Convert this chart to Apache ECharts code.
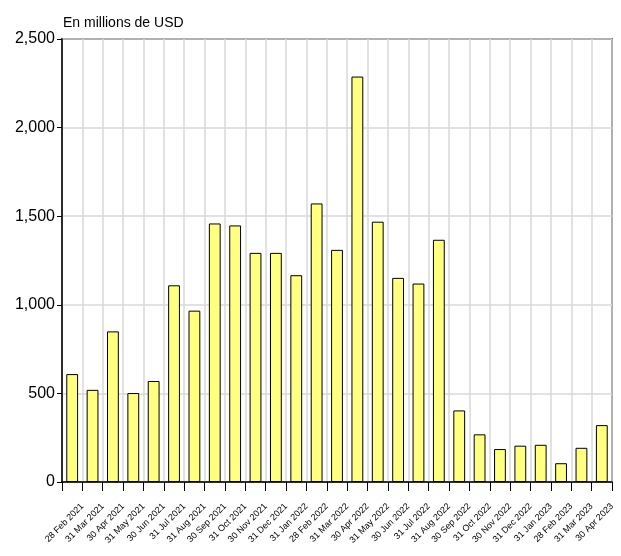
<!DOCTYPE html>
<html>
<head>
<meta charset="utf-8">
<script src="https://cdn.jsdelivr.net/npm/echarts@6/dist/echarts.min.js"></script>
<style>
html,body{margin:0;padding:0;background:#fff;}
#chart{width:621px;height:556px;}
</style>
</head>
<body>
<div id="chart"></div>
<script>
const categories = [
  "28 Feb 2021","31 Mar 2021","30 Apr 2021","31 May 2021","30 Jun 2021","31 Jul 2021",
  "31 Aug 2021","30 Sep 2021","31 Oct 2021","30 Nov 2021","31 Dec 2021","31 Jan 2022",
  "28 Feb 2022","31 Mar 2022","30 Apr 2022","31 May 2022","30 Jun 2022","31 Jul 2022",
  "31 Aug 2022","30 Sep 2022","31 Oct 2022","30 Nov 2022","31 Dec 2022","31 Jan 2023",
  "28 Feb 2023","31 Mar 2023","30 Apr 2023"
];
const values = [
  609, 520, 850, 502, 570, 1110,
  967, 1459, 1448, 1293, 1293, 1167,
  1572, 1310, 2288, 1469, 1152, 1120,
  1367, 404, 269, 186, 205, 210,
  106, 193, 321
];
const yTicks = [0, 500, 1000, 1500, 2000, 2500];
const titleText = "En millions de USD";

// label axis: labels sit at the right boundary of each category
const boundaryLabels = [""].concat(categories);

const chart = echarts.init(document.getElementById('chart'), null, {renderer: 'canvas'});
const font = "'Liberation Sans', Arial, sans-serif";
chart.setOption({
  animation: false,
  backgroundColor: '#fff',
  title: {
    text: titleText,
    left: 58, top: 11,
    textStyle: {fontFamily: font, fontSize: 14, fontWeight: 'normal', color: '#000'}
  },
  grid: {
    left: 62, right: 9, top: 39, bottom: 74,
    show: true, borderColor: '#000', borderWidth: 1.5, backgroundColor: 'transparent',
    containLabel: false
  },
  xAxis: [{
    type: 'category',
    data: categories,
    boundaryGap: true,
    axisLine: {show: true, lineStyle: {color: '#000', width: 1.5}},
    axisTick: {show: true, length: 9, interval: 0, lineStyle: {color: '#000', width: 1}},
    splitLine: {show: true, interval: 0, lineStyle: {color: '#d9d9d9', width: 1.5}},
    axisLabel: {show: false}
  }, {
    type: 'category',
    data: boundaryLabels,
    boundaryGap: false,
    position: 'bottom',
    axisLine: {show: false},
    axisTick: {show: false},
    splitLine: {show: false},
    axisLabel: {
      interval: 0, rotate: 45, fontFamily: font, fontSize: 9, color: '#000', margin: 23
    }
  }],
  yAxis: {
    type: 'value',
    min: yTicks[0], max: yTicks[yTicks.length - 1], interval: 500,
    axisLine: {show: true, lineStyle: {color: '#000', width: 1.5}},
    axisTick: {show: true, length: 5, lineStyle: {color: '#000'}},
    splitLine: {show: true, lineStyle: {color: '#d9d9d9', width: 1.5}},
    axisLabel: {
      fontFamily: font, fontSize: 16, color: '#000', margin: 7,
      formatter: v => v.toLocaleString('en-US')
    }
  },
  series: [{
    type: 'bar',
    xAxisIndex: 0,
    data: values,
    barCategoryGap: '42%',
    itemStyle: {color: '#ffff80', borderColor: '#000', borderWidth: 1}
  }]
});
</script>
</body>
</html>
